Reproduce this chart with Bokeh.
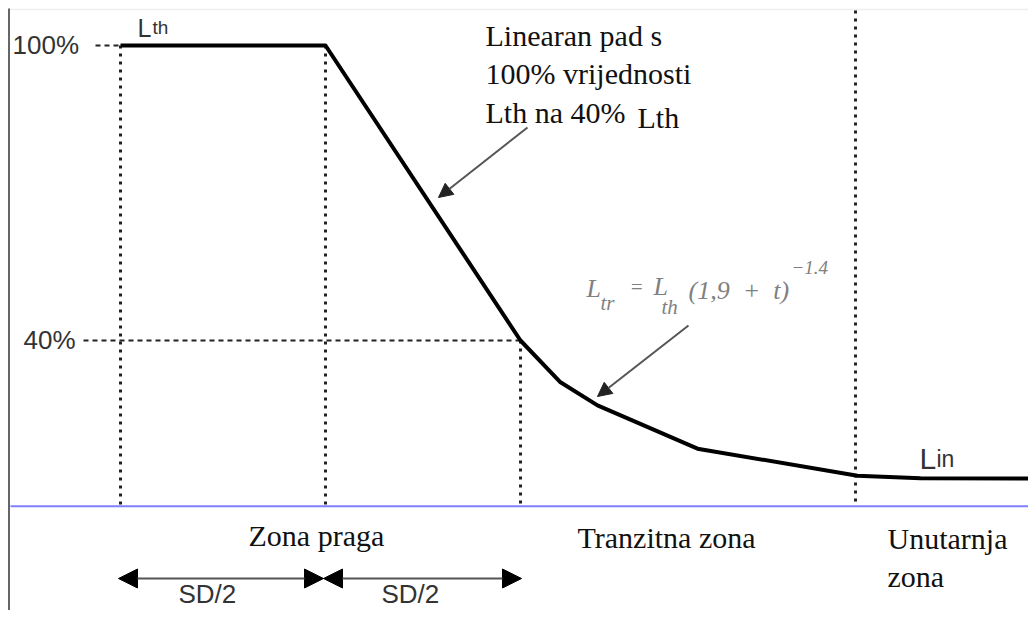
from bokeh.plotting import figure
from bokeh.models import Range1d, Arrow, NormalHead, Label
from bokeh.embed import file_html
from bokeh.resources import INLINE

# ---------------- data ----------------
distance = [120, 325, 520, 560, 597, 697, 857, 920, 1036]          # position along tunnel
luminance_pct = [100, 100, 40, 31.5, 26.8, 18.0, 12.5, 12.0, 11.9]  # % of Lth
zone_bounds = [120, 325, 520, 855]
zone_tops = [100, 100, 40, None]
level_labels = ["100%", "40%"]
level_values = [100, 40]
baseline_pct = 6.3
zone_names = ["Zona praga", "Tranzitna zona", "Unutarnja", "zona"]
sd_labels = ["SD/2", "SD/2"]
note_lines = ["Linearan pad s", "100% vrijednosti", "Lth na 40%", "Lth"]

PX_PER_PCT = 295 / 60.0


def pct(ypx):
    return 100 - (ypx - 45) / PX_PER_PCT


zone_tops[3] = pct(10)

p = figure(width=1028, height=610, x_range=Range1d(0, 1028),
           y_range=Range1d(pct(610), pct(0)), output_backend="svg",
           toolbar_location=None, min_border=0)
p.axis.visible = False
p.grid.visible = False
p.outline_line_color = None
p.background_fill_color = "white"
p.border_fill_color = "white"

# faint top line and left axis line
p.segment(x0=[10], y0=[pct(9)], x1=[1036], y1=[pct(9)], line_color="#eeeeee", line_width=1.5)
p.segment(x0=[8.5], y0=[pct(8)], x1=[8.5], y1=[pct(618)], line_color="#666666", line_width=2)

# baseline
p.segment(x0=[10], y0=[baseline_pct], x1=[1036], y1=[baseline_pct], line_color="#8080ff", line_width=2)

# vertical dotted zone bounds
p.segment(x0=zone_bounds, y0=zone_tops, x1=zone_bounds, y1=[baseline_pct] * 4,
          line_color="#222222", line_width=3, line_dash="3 5")

# horizontal dashed level guides
p.segment(x0=[95, 83], y0=level_values, x1=[120, 520], y1=level_values,
          line_color="#222222", line_width=2, line_dash="5 4")

# curve
p.line(distance, luminance_pct, line_color="black", line_width=4, line_join="round")

SANS = "Liberation Sans"
SERIF = "Liberation Serif"
TEXT_SHIFT = 10


def lab(x, ypx, text, size, font, color="#111111", style="normal"):
    p.add_layout(Label(x=x, y=pct(ypx - TEXT_SHIFT), text=text, text_font=font,
                       text_font_size=f"{size}px", text_color=color,
                       text_font_style=style, text_baseline="alphabetic"))


NB = "\u00a0"

# level labels
lab(12, 54, level_labels[0], 26, SANS, "#333333")
lab(23, 349, level_labels[1], 26, SANS, "#333333")

# Lth
lab(137, 37, "L", 25, SANS, "#333333")
lab(152, 37, "th", 19, SANS, "#333333")

# Lin
lab(919, 468, "L", 30, SANS, "#333333")
lab(936, 468, "in", 23, SANS, "#333333")

# note text
lab(485, 45, note_lines[0], 30, SERIF)
lab(485, 83, note_lines[1], 30, SERIF)
lab(485, 122, note_lines[2], 30, SERIF)
lab(637, 127, note_lines[3], 30, SERIF)

# formula
FG = "#808080"
lab(586, 298, "L", 26, SERIF, FG, "italic")
lab(600, 312, "tr", 21, SERIF, FG, "italic")
lab(629, 296, "=", 21, SERIF, FG, "italic")
lab(653, 296, "L", 26, SERIF, FG, "italic")
lab(661, 316, "th", 21, SERIF, FG, "italic")
lab(688, 300, f"(1,9{NB}{NB}+{NB}{NB}t)", 26, SERIF, FG, "italic")
lab(791, 277, "\u22121.4", 19, SERIF, FG, "italic")

# zone names
lab(248, 545, zone_names[0], 30, SERIF)
lab(577, 547, zone_names[1], 30, SERIF)
lab(887, 548, zone_names[2], 30, SERIF)
lab(887, 586, zone_names[3], 30, SERIF)

# SD arrows
sd_y = pct(578)
for x0, x1 in [(118, 323), (323, 521)]:
    p.add_layout(Arrow(x_start=x0, y_start=sd_y, x_end=x1, y_end=sd_y,
                       start=NormalHead(size=19, fill_color="black", line_color="black"),
                       end=NormalHead(size=19, fill_color="black", line_color="black"),
                       line_color="#555555", line_width=2))
lab(178, 603, sd_labels[0], 26, SANS, "#333333")
lab(381, 603, sd_labels[1], 26, SANS, "#333333")

# pointer arrows
for (xs, ys, xe, ye) in [(527, 127, 438, 197), (688, 325, 597, 396)]:
    p.add_layout(Arrow(x_start=xs, y_start=pct(ys), x_end=xe, y_end=pct(ye),
                       end=NormalHead(size=14, fill_color="#222222", line_color="#222222"),
                       line_color="#555555", line_width=2))

open("out.html", "w").write(file_html(p, INLINE))
